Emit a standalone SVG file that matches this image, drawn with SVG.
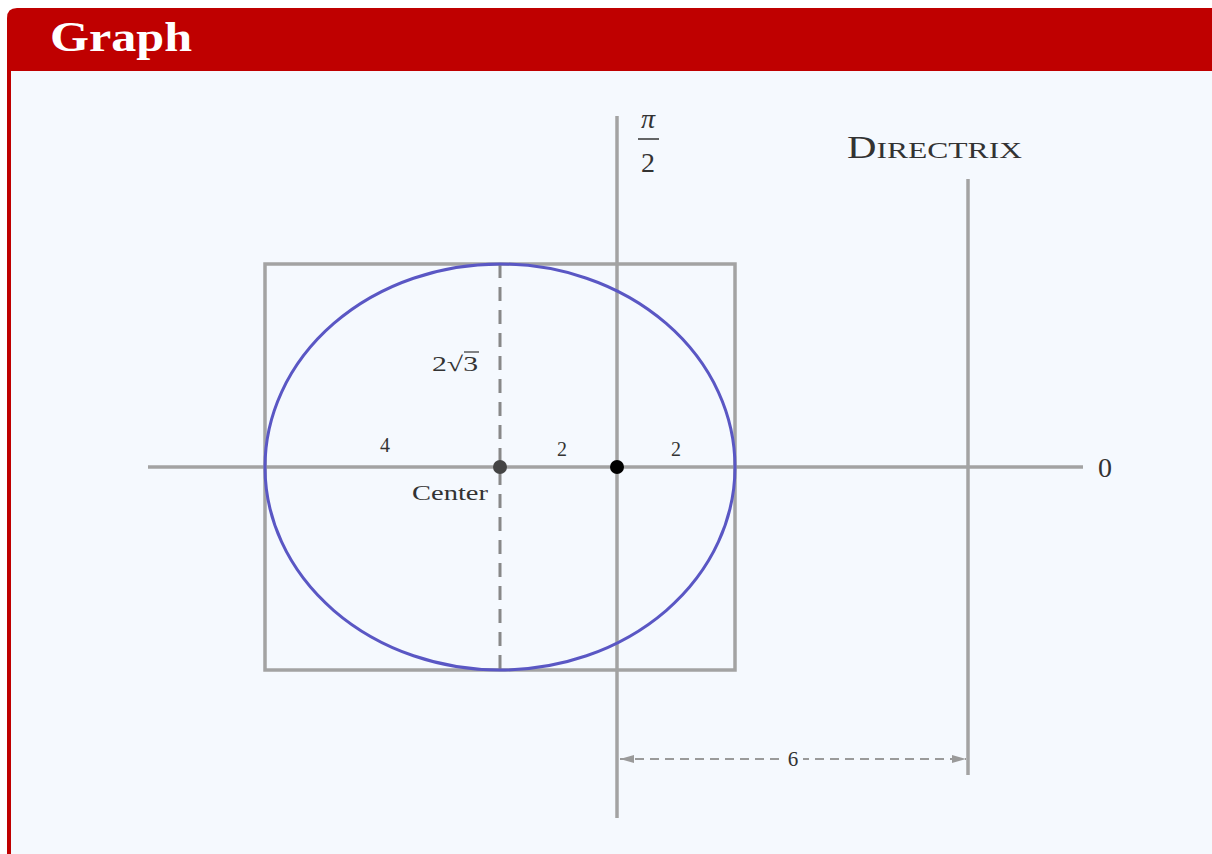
<svg xmlns="http://www.w3.org/2000/svg" width="1212" height="854" viewBox="0 0 1212 854">
<defs>
<style>
.ax{stroke:#a3a3a3;stroke-width:3.5;fill:none}
.lbl{font-family:"Liberation Serif","DejaVu Serif",serif;fill:#333}
</style>
<marker id="arr" viewBox="0 0 14 10" refX="14" refY="5" markerWidth="14" markerHeight="10" orient="auto-start-reverse" markerUnits="userSpaceOnUse">
<path d="M0,1 L14,5 L0,9 Z" fill="#9a9a9a"/>
</marker>
</defs>
<rect x="0" y="0" width="1212" height="854" fill="#ffffff"/>
<g id="frame">
<path d="M7,854 V18 Q7,8 17,8 H1212 V854 Z" fill="#bf0000"/>
<rect x="11" y="71" width="1201" height="783" fill="#f5f9fe"/>
<text x="50" y="51" font-family="Liberation Serif, DejaVu Serif, serif" font-size="42" font-weight="bold" fill="#ffffff" textLength="142" lengthAdjust="spacingAndGlyphs">Graph</text>
</g>
<g id="connectors">
<line class="ax" x1="148" y1="467" x2="1083" y2="467"/>
<line class="ax" x1="617" y1="116" x2="617" y2="818"/>
<line class="ax" x1="968" y1="179" x2="968" y2="775"/>
<rect id="box" class="ax" x="265" y="264" width="470" height="406"/>
<line x1="500" y1="264" x2="500" y2="670" stroke="#888" stroke-width="3" stroke-dasharray="14,9"/>
<line x1="620" y1="759" x2="966" y2="759" stroke="#9a9a9a" stroke-width="2" stroke-dasharray="9,6" marker-start="url(#arr)" marker-end="url(#arr)"/>
</g>
<g id="ellipse">
<ellipse cx="500" cy="467" rx="235" ry="203" fill="none" stroke="#5a57c4" stroke-width="3"/>
</g>
<g id="center">
<circle cx="500" cy="467" r="7" fill="#444"/>
<text class="lbl" x="412" y="500" font-size="21" textLength="76" lengthAdjust="spacingAndGlyphs">Center</text>
</g>
<g id="focus">
<circle cx="617" cy="467" r="7" fill="#000"/>
</g>
<g id="labels">
<rect x="783" y="747" width="20" height="24" fill="#f5f9fe"/>
<text class="lbl" x="793" y="766" font-size="21" text-anchor="middle" fill="#777">6</text>
<text class="lbl" x="385" y="452" font-size="20" text-anchor="middle">4</text>
<text class="lbl" x="562" y="456" font-size="20" text-anchor="middle">2</text>
<text class="lbl" x="676" y="456" font-size="20" text-anchor="middle">2</text>
<text class="lbl" x="432" y="371" font-size="21" textLength="46" lengthAdjust="spacingAndGlyphs">2√3</text>
<line x1="464" y1="352" x2="479" y2="352" stroke="#333" stroke-width="1.2"/>
<text class="lbl" x="1105" y="477" font-size="28" text-anchor="middle">0</text>
<text class="lbl" x="648" y="128" font-size="28" text-anchor="middle" font-style="italic">π</text>
<line x1="638" y1="139" x2="659" y2="139" stroke="#333" stroke-width="1.5"/>
<text class="lbl" x="648" y="172" font-size="28" text-anchor="middle">2</text>
<text class="lbl" x="847" y="158" font-size="31" textLength="175" lengthAdjust="spacingAndGlyphs">D<tspan font-size="24">IRECTRIX</tspan></text>
</g>
</svg>
